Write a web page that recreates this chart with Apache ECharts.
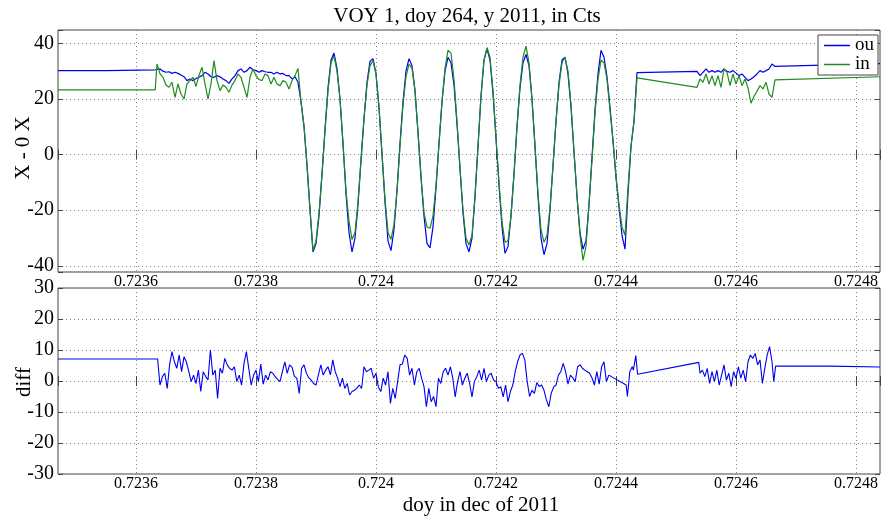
<!DOCTYPE html>
<html><head><meta charset="utf-8">
<script src="https://cdn.jsdelivr.net/npm/echarts@6/dist/echarts.min.js"></script>
<style>html,body{margin:0;padding:0;background:#fff}#c{width:887px;height:516px}</style>
</head><body><div id="c"></div>
<script>
// ---- data (doy fraction, counts) ----
const topTime = [0.72347, 0.723551, 0.723552, 0.723632,
0.723635,0.72364,0.723645,0.72365,0.723655,0.72366,0.723665,0.72367,0.723675,0.72368,
0.723685,0.72369,0.723695,0.7237,0.723705,0.72371,0.723715,0.72372,0.723725,0.72373,
0.723735,0.72374,0.723745,0.72375,0.723755,0.72376,0.723765,0.72377,0.723775,0.72378,
0.723785,0.72379,0.723795,0.7238,0.723805,0.72381,0.723815,0.72382,0.723825,0.72383,
0.723835,0.72384,0.723845,0.72385,0.723855,0.72386,0.723865,0.72387,0.723875,0.72388,
0.723885,0.72389,0.723895,0.7239,0.723905,0.72391,0.723915,0.72392,0.723925,0.72393,
0.723935,0.72394,0.723945,0.72395,0.723955,0.72396,0.723965,0.72397,0.723975,0.72398,
0.723985,0.72399,0.723995,0.724,0.724005,0.72401,0.724015,0.72402,0.724025,0.72403,
0.724035,0.72404,0.724045,0.72405,0.724055,0.72406,0.724065,0.72407,0.724075,0.72408,
0.724085,0.72409,0.724095,0.7241,0.724105,0.72411,0.724115,0.72412,0.724125,0.72413,
0.724135,0.72414,0.724145,0.72415,0.724155,0.72416,0.724165,0.72417,0.724175,0.72418,
0.724185,0.72419,0.724195,0.7242,0.724205,0.72421,0.724215,0.72422,0.724225,0.72423,
0.724235,0.72424,0.724245,0.72425,0.724255,0.72426,0.724265,0.72427,0.724275,0.72428,
0.724285,0.72429,0.724295,0.7243,0.724305,0.72431,0.724315,0.72432,0.724325,0.72433,
0.724335,0.72434,0.724345,0.72435,0.724355,0.72436,0.724365,0.72437,0.724375,0.72438,
0.724385,0.72439,0.724395,0.7244,0.724405,0.72441,0.724415,0.72442,0.724425,0.72443,
0.724435,
0.724535,0.72454,0.724545,0.72455,0.724555,0.72456,0.724565,0.72457,0.724575,0.72458,
0.724585,0.72459,0.724595,0.7246,0.724605,0.72461,0.724615,0.72462,0.724625,0.72463,
0.724635,0.72464,0.724645,0.72465,0.724655,0.72466,0.724665,
0.72484];

const ouValues = [30.2, 30.2, 30.5, 30.5,
30.5, 30.8, 30.0, 29.6, 29.8, 29.2, 29.6, 29.2, 28.6, 28.0,
26.6, 27.2, 26.6, 27.4, 27.8, 28.4, 29.6, 29.0, 28.0, 27.8,
28.4, 28.0, 27.2, 26.6, 25.6, 27.2, 28.4, 30.2, 30.8, 29.6,
30.2, 31.4, 30.5, 30.2, 29.6, 30.2, 29.8, 29.6, 29.6, 29.0,
29.6, 29.0, 29.2, 28.4, 28.4, 27.2, 28.0, 26.0, 19.0, 10.0,
-4.0, -20.0, -35.0, -32.0, -22.0, -7.0, 9.0, 24.0, 34.0, 36.5,
31.0, 20.0, 4.0, -14.0, -28.0, -35.0, -30.0, -18.0, -2.0, 13.0,
26.0, 33.5, 34.5, 29.0, 17.0, 0.0, -17.0, -31.0, -34.5, -27.0,
-13.0, 4.0, 19.0, 30.0, 34.5, 32.0, 23.0, 8.0, -8.0, -22.0,
-32.0, -33.5, -26.0, -12.0, 4.0, 19.0, 30.0, 35.0, 33.0, 25.0,
11.0, -5.0, -21.0, -32.0, -35.0, -30.0, -15.0, 3.0, 21.0, 34.0,
38.0, 34.0, 22.0, 6.0, -11.0, -26.0, -35.5, -33.0, -22.0, -7.0,
10.0, 24.0, 33.0, 36.0, 32.0, 20.0, 3.0, -15.0, -30.0, -36.0,
-32.0, -20.0, -4.0, 12.0, 26.0, 34.0, 35.0, 29.0, 17.0, 1.0,
-15.0, -28.0, -34.0, -31.0, -18.0, -1.0, 16.0, 29.0, 37.5, 35.0,
28.0, 17.0, 5.0, -8.0, -19.0, -29.0, -34.0, -14.0, 3.0, 12.0,
29.5,
29.9, 28.4, 29.6, 30.8, 29.6, 30.2, 29.6, 30.2, 29.6, 30.8,
29.9, 29.6, 30.2, 29.3, 28.4, 29.0, 27.8, 26.6, 27.2, 28.0,
29.0, 30.2, 29.6, 30.2, 30.8, 32.6, 31.7,
32.7];

const inValues = [23.3, 23.3, 23.3, 23.3,
32.6, 29.0, 27.8, 25.0, 24.2, 26.0, 20.6, 25.4, 21.8, 20.0,
25.4, 26.6, 27.8, 24.5, 28.5, 31.4, 25.4, 20.0, 25.4, 33.8,
26.6, 23.0, 25.0, 24.2, 22.4, 25.0, 26.6, 29.0, 27.8, 24.2,
20.6, 27.8, 30.8, 28.4, 27.0, 26.6, 29.0, 28.4, 25.4, 27.8,
25.4, 24.8, 26.6, 26.0, 23.6, 26.6, 28.4, 31.0, 19.0, 10.5,
-3.5, -19.5, -34.5, -31.0, -21.0, -7.0, 8.5, 23.0, 33.0, 35.5,
30.0, 20.0, 4.0, -13.0, -24.0, -30.5, -28.0, -17.0, -2.0, 13.0,
25.0, 32.0, 33.8, 29.0, 17.0, 0.5, -16.0, -28.0, -30.5, -25.0,
-13.0, 3.0, 18.0, 28.0, 32.5, 31.0, 23.0, 8.0, -8.0, -21.0,
-26.0, -26.5, -22.0, -11.0, 4.0, 19.0, 31.0, 37.5, 36.5, 27.0,
12.0, -5.0, -20.0, -30.0, -32.5, -29.0, -15.0, 3.0, 21.0, 34.0,
38.5, 35.0, 23.0, 6.0, -10.0, -24.0, -31.5, -31.0, -22.0, -7.0,
10.0, 25.0, 35.0, 39.0, 33.0, 20.0, 3.0, -14.0, -27.0, -31.5,
-29.0, -19.0, -4.0, 12.0, 25.0, 33.0, 35.0, 30.0, 18.0, 1.0,
-15.0, -29.0, -38.0, -33.0, -18.0, -2.0, 15.0, 27.0, 34.0, 33.0,
27.0, 16.0, 5.0, -8.0, -18.0, -26.0, -29.0, -12.0, 3.0, 12.0,
27.6,
24.2, 27.2, 26.0, 29.0, 25.4, 28.4, 24.8, 28.4, 24.2, 30.8,
29.6, 24.8, 29.0, 25.4, 28.4, 24.8, 27.2, 24.0, 18.5, 21.0,
22.8, 24.8, 23.6, 26.0, 21.8, 20.6, 26.9,
28.0];

const diffTime = [0.72347, 0.723636,
0.72364,0.723644,0.723648,0.723652,0.723656,0.72366,0.723664,0.723668,0.723672,0.723676,
0.72368,0.723684,0.723688,0.723692,0.723696,0.7237,0.723704,0.723708,0.723712,0.723716,
0.72372,0.723724,0.723728,0.723732,0.723736,0.72374,0.723744,0.723748,0.723752,0.723756,
0.72376,0.723764,0.723768,0.723772,0.723776,0.72378,0.723784,0.723788,0.723792,0.723796,
0.7238,0.723804,0.723808,0.723812,0.723816,0.72382,0.723824,0.723828,0.723832,0.723836,
0.72384,0.723844,0.723848,0.723852,0.723856,0.72386,0.723864,0.723868,0.723872,0.723876,
0.72388,0.723884,0.723888,0.723892,0.723896,0.7239,0.723904,0.723908,0.723912,0.723916,
0.72392,0.723924,0.723928,0.723932,0.723936,0.72394,0.723944,0.723948,0.723952,0.723956,
0.72396,0.723964,0.723968,0.723972,0.723976,0.72398,0.723984,0.723988,0.723992,0.723996,
0.724,0.724004,0.724008,0.724012,0.724016,0.72402,0.724024,0.724028,0.724032,0.724036,
0.72404,0.724044,0.724048,0.724052,0.724056,0.72406,0.724064,0.724068,0.724072,0.724076,
0.72408,0.724084,0.724088,0.724092,0.724096,0.7241,0.724104,0.724108,0.724112,0.724116,
0.72412,0.724124,0.724128,0.724132,0.724136,0.72414,0.724144,0.724148,0.724152,0.724156,
0.72416,0.724164,0.724168,0.724172,0.724176,0.72418,0.724184,0.724188,0.724192,0.724196,
0.7242,0.724204,0.724208,0.724212,0.724216,0.72422,0.724224,0.724228,0.724232,0.724236,
0.72424,0.724244,0.724248,0.724252,0.724256,0.72426,0.724264,0.724268,0.724272,0.724276,
0.72428,0.724284,0.724288,0.724292,0.724296,0.7243,0.724304,0.724308,0.724312,0.724316,
0.72432,0.724324,0.724328,0.724332,0.724336,0.72434,0.724344,0.724348,0.724352,0.724356,
0.72436,0.724364,0.724368,0.724372,0.724376,0.72438,0.724384,0.724388,
0.724417,0.724419,0.724423,0.724427,0.724429,0.724433,0.724436,0.724538,
0.72454,0.724544,0.724548,0.724552,0.724556,0.72456,0.724564,0.724568,0.724572,0.724576,
0.72458,0.724584,0.724588,0.724592,0.724596,0.7246,0.724604,0.724608,0.724612,0.724616,
0.72462,0.724624,0.724628,0.724632,0.724636,0.72464,0.724644,0.724648,0.724652,0.724656,
0.72466,
0.724663,0.724666,0.724757,0.724758,0.72484];

const diffValues = [7.1, 7.1,
-1.3, 1.4, 2.5, -2.4, 5.2, 9.5, 6.2, 4.1, 8.4, 3.0,
7.8, 6.2, 3.0, -0.2, 1.9, -0.8, 3.5, -3.4, 3.0, 1.5,
0.3, 10.0, 1.9, 3.5, -5.6, 4.1, 2.5, 7.3, 5.2, 4.1,
3.5, 4.6, -0.2, 1.9, -1.3, 5.7, 9.5, 4.0, -1.3, 1.9,
3.5, -0.2, 5.5, -1.0, 1.9, 0.3, 3.0, 2.5, 1.4, 0.5,
-0.2, 3.0, 6.2, 2.5, 5.2, 4.5, 1.5, 0.9, -4.0, 4.1,
5.2, 2.5, 1.0, 0.3, -0.8, -1.3, 2.0, 5.2, 1.9, 3.5,
4.6, 2.0, 6.8, 3.0, 1.0, -1.8, 0.9, -2.4, -0.8, -4.5,
-3.4, -3.0, -2.4, -1.3, -2.4, 4.6, 3.0, 3.5, 4.1, 0.9,
2.5, -2.0, -3.4, 0.9, -1.3, 3.0, -7.2, -2.4, -5.6, -0.2,
5.2, 5.5, 8.4, 7.3, 1.9, 4.1, -1.3, 3.0, 4.1, 0.9,
-1.8, -8.3, -2.4, -6.7, -5.0, -8.3, 0.9, -0.8, 3.0, 4.1,
1.9, 4.6, 0.9, -5.1, -0.2, 3.0, -1.3, 0.9, 2.5, -0.8,
-5.1, -0.2, 1.4, 3.5, 0.3, 4.1, -0.2, 1.9, 2.5, 0.3,
-0.2, -2.4, -1.8, -5.1, -1.3, -6.7, -3.4, -1.3, 3.0, 6.2,
8.4, 8.9, 6.8, -0.2, -5.0, -3.0, -4.0, -0.5, -1.8, -1.3,
-3.0, -6.1, -8.3, -4.0, -2.0, -1.3, 1.9, 3.0, 5.7, 3.0,
-1.0, 1.9, 1.0, -0.2, 4.6, 5.2, 4.1, 3.5, 3.0, 2.5,
1.0, -1.3, 3.0, -1.0, 4.6, 6.2, -0.2, 1.9,
-1.3, -5.0, 3.0, 4.6, 3.5, 8.2, 2.2, 6.0,
2.5, 3.5, 1.4, 4.1, -0.8, 3.0, -0.2, 3.5, -1.3, 1.9,
5.2, 0.3, 2.5, -1.8, 3.0, 0.9, 4.6, 0.9, 3.5, -0.2,
6.2, 8.4, 7.3, 8.9, 5.2, 6.8, -0.8, 4.1, 8.4, 11.1,
6.2,
-0.2, 4.8, 4.8, 4.5, 4.5];

const xRange = [0.72347, 0.72484];
const topYRange = [-42.2, 44.8];
const diffYRange = [-30, 30];

const titleText = 'VOY 1, doy 264, y 2011, in Cts';
const topYName = 'X - 0 X';
const diffYName = 'diff';
const xName = 'doy in dec of 2011';
const legendNames = ['ou', 'in'];

// ---- chart ----
const FONT = '"Liberation Serif", "Times New Roman", serif';
const zip = (t, v) => t.map((x, i) => [x, v[i]]);
const frame = '#444';
const BLUE = '#0000ee', GREEN = '#1e8c1e';
const dotted = { show: true, showMinLine: false, showMaxLine: false,
  lineStyle: { color: '#808080', width: 1, type: [1, 3] } };
const tick = { show: true, inside: true, length: 5, lineStyle: { color: frame, width: 1 } };
const xFmt = v => { const r = v / 0.0002; return Math.abs(r - Math.round(r)) < 1e-3 ? String(Math.round(v * 1e4) / 1e4) : ''; };
const yFmt20 = v => { const r = v / 20; return Math.abs(r - Math.round(r)) < 1e-6 ? String(Math.round(v)) : ''; };

function xAxes(grid) {
  const base = { type: 'value', gridIndex: grid, min: xRange[0], max: xRange[1],
    minInterval: 0.0002, maxInterval: 0.0002, splitNumber: 7 };
  return [
    Object.assign({}, base, { position: 'bottom', axisLine: { show: false }, axisTick: tick,
      splitLine: dotted,
      axisLabel: { fontFamily: FONT, fontSize: 16, color: '#000', margin: 2, formatter: xFmt } }),
    Object.assign({}, base, { position: 'top', axisLine: { show: false }, axisTick: tick,
      splitLine: { show: false }, axisLabel: { show: false } })
  ];
}
function yAxes(grid, range, step, fmt) {
  const base = { type: 'value', gridIndex: grid, min: range[0], max: range[1],
    minInterval: step, maxInterval: step };
  return [
    Object.assign({}, base, { position: 'left', axisLine: { show: false }, axisTick: tick,
      splitLine: dotted,
      axisLabel: { fontFamily: FONT, fontSize: 20, color: '#000', margin: 4, formatter: fmt } }),
    Object.assign({}, base, { position: 'right', axisLine: { show: false }, axisTick: tick,
      splitLine: { show: false }, axisLabel: { show: false } })
  ];
}

const chart = echarts.init(document.getElementById('c'), null, { renderer: 'canvas' });
chart.setOption({
  animation: false,
  backgroundColor: '#fff',
  grid: [
    { left: 58, top: 30, width: 822, height: 242, show: true, borderColor: frame, borderWidth: 1, backgroundColor: 'transparent' },
    { left: 58, top: 288, width: 822, height: 186, show: true, borderColor: frame, borderWidth: 1, backgroundColor: 'transparent' }
  ],
  xAxis: xAxes(0).concat(xAxes(1)),
  yAxis: yAxes(0, topYRange, 20, yFmt20).concat(yAxes(1, diffYRange, 10, v => String(Math.round(v)))),
  legend: {
    data: legendNames, orient: 'vertical', right: 9, top: 35,
    icon: 'rect', itemWidth: 26, itemHeight: 1.5, itemGap: 0, padding: [1, 4, 1, 6],
    borderColor: frame, borderWidth: 1, backgroundColor: '#fff',
    textStyle: { fontFamily: FONT, fontSize: 19, lineHeight: 15, color: '#000' }
  },
  graphic: [
    { type: 'text', x: 467, y: 16, style: { text: titleText, font: '21px ' + FONT, fill: '#000', textAlign: 'center', textVerticalAlign: 'middle' } },
    { type: 'text', x: 23, y: 148, rotation: Math.PI / 2, style: { text: topYName, font: '21px ' + FONT, fill: '#000', textAlign: 'center', textVerticalAlign: 'middle' } },
    { type: 'text', x: 24, y: 382, rotation: Math.PI / 2, style: { text: diffYName, font: '21px ' + FONT, fill: '#000', textAlign: 'center', textVerticalAlign: 'middle' } },
    { type: 'text', x: 481, y: 505, style: { text: xName, font: '21px ' + FONT, fill: '#000', textAlign: 'center', textVerticalAlign: 'middle' } }
  ],
  series: [
    { name: 'ou', type: 'line', xAxisIndex: 0, yAxisIndex: 0, data: zip(topTime, ouValues), symbol: 'none',
      lineStyle: { color: BLUE, width: 1.2 }, itemStyle: { color: BLUE } },
    { name: 'in', type: 'line', xAxisIndex: 0, yAxisIndex: 0, data: zip(topTime, inValues), symbol: 'none',
      lineStyle: { color: GREEN, width: 1.2 }, itemStyle: { color: GREEN } },
    { name: 'diff', type: 'line', xAxisIndex: 2, yAxisIndex: 2, data: zip(diffTime, diffValues), symbol: 'none',
      lineStyle: { color: BLUE, width: 1.1 }, itemStyle: { color: BLUE } }
  ]
});
if (topTime.length !== ouValues.length || topTime.length !== inValues.length || diffTime.length !== diffValues.length) {
  console.error('length mismatch', topTime.length, ouValues.length, inValues.length, diffTime.length, diffValues.length);
}
</script></body></html>
